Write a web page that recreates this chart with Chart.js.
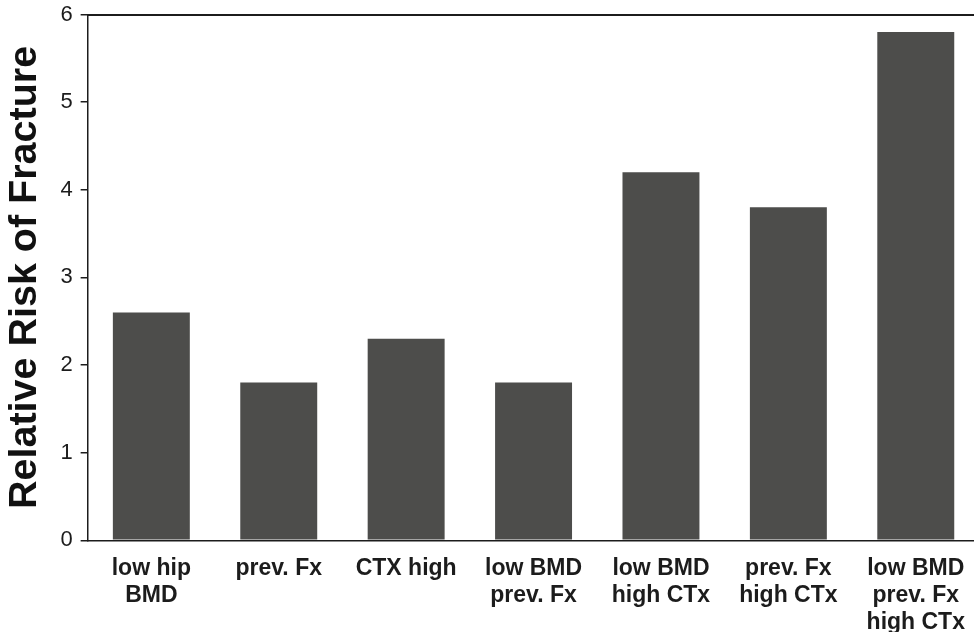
<!DOCTYPE html>
<html>
<head>
<meta charset="utf-8">
<script src="https://cdn.jsdelivr.net/npm/chart.js@4/dist/chart.umd.min.js"></script>
<style>
  html, body { margin: 0; padding: 0; background: #fff; overflow: hidden; }
  #wrap { position: absolute; left: 0; top: 0; width: 974px; height: 632px; overflow: hidden; }
  canvas { display: block; }
</style>
</head>
<body>
<div id="wrap"><canvas id="c" width="980" height="651"></canvas></div>
<script>
const categories = [
  ["low hip", "BMD"],
  ["prev. Fx"],
  ["CTX high"],
  ["low BMD", "prev. Fx"],
  ["low BMD", "high CTx"],
  ["prev. Fx", "high CTx"],
  ["low BMD", "prev. Fx", "high CTx"]
];
const relativeRisk = [2.6, 1.8, 2.3, 1.8, 4.2, 3.8, 5.8];
const yTicks = [0, 1, 2, 3, 4, 5, 6];
const yTitle = "Relative Risk of Fracture";

const FONT = "'Liberation Sans', Arial, Helvetica, sans-serif";
const INK = "#1c1c1c";

new Chart(document.getElementById("c"), {
  type: "bar",
  data: {
    labels: categories,
    datasets: [{
      data: relativeRisk,
      backgroundColor: "#4d4d4b",
      borderWidth: 0,
      barPercentage: 0.604,
      categoryPercentage: 1.0
    }]
  },
  options: {
    responsive: false,
    animation: false,
    devicePixelRatio: 1,
    layout: { padding: { top: 10, left: 0, right: 0, bottom: 0 } },
    plugins: { legend: { display: false }, tooltip: { enabled: false } },
    scales: {
      x: {
        position: "bottom",
        offset: true,
        grid: { display: false, drawTicks: false },
        border: { display: true, color: INK, width: 1.5 },
        ticks: {
          color: INK,
          font: { family: FONT, size: 23, weight: "bold", lineHeight: 1.17 },
          padding: 15,
          maxRotation: 0,
          minRotation: 0,
          autoSkip: false
        }
      },
      x2: {
        position: "top",
        offset: true,
        grid: { display: false, drawTicks: false },
        border: { display: true, color: INK, width: 2 },
        ticks: { display: false }
      },
      y: {
        min: 0,
        max: 6,
        afterBuildTicks: (axis) => { axis.ticks = yTicks.map(v => ({ value: v })); },
        grid: { display: true, drawOnChartArea: false, drawTicks: true, tickLength: 7, color: INK, lineWidth: 1.5 },
        border: { display: true, color: INK, width: 1.5 },
        ticks: {
          color: INK,
          font: { family: FONT, size: 22, lineHeight: 0.6 },
          padding: 8
        },
        title: {
          display: true,
          text: yTitle,
          color: "#111",
          font: { family: FONT, size: 39.5, weight: "bold", lineHeight: 1.2 },
          padding: { top: 1, bottom: 4 }
        }
      }
    }
  }
});
</script>
</body>
</html>
